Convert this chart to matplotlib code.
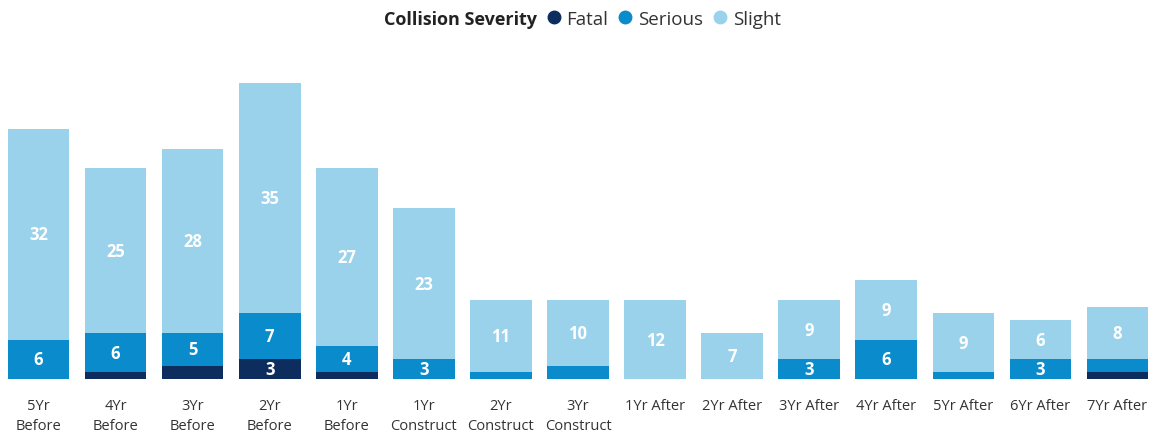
import matplotlib.pyplot as plt
import numpy as np
from matplotlib.lines import Line2D

plt.rcParams['font.family'] = ['Open Sans', 'DejaVu Sans']

# Collision counts per period
periods = ['5Yr\nBefore', '4Yr\nBefore', '3Yr\nBefore', '2Yr\nBefore', '1Yr\nBefore',
           '1Yr\nConstruct', '2Yr\nConstruct', '3Yr\nConstruct', '1Yr After', '2Yr After',
           '3Yr After', '4Yr After', '5Yr After', '6Yr After', '7Yr After']
fatal = [0, 1, 2, 3, 1, 0, 0, 0, 0, 0, 0, 0, 0, 0, 1]
serious = [6, 6, 5, 7, 4, 3, 1, 2, 0, 0, 3, 6, 1, 3, 2]
slight = [32, 25, 28, 35, 27, 23, 11, 10, 12, 7, 9, 9, 9, 6, 8]

severities = ['Fatal', 'Serious', 'Slight']
colors = ['#0d2d5e', '#0a8bcb', '#9bd2eb']

fig = plt.figure(figsize=(11.56, 4.35), dpi=100)
ax = fig.add_axes([0, 0.1264, 1, 0.761])

x = np.arange(len(periods))
bottom = np.zeros(len(periods))
for name, vals, col in zip(severities, [fatal, serious, slight], colors):
    vals = np.array(vals)
    ax.bar(x, vals, width=0.8, bottom=bottom, color=col, label=name)
    # label only segments big enough to hold text
    for xi, b, v in zip(x, bottom, vals):
        if v >= 3:
            ax.text(xi, b + v / 2, str(v), ha='center', va='center',
                    color='white', fontsize=12, fontweight='bold')
    bottom += vals

ax.set_xlim(-0.5, len(periods) - 0.5)
ax.set_ylim(0, 50.3)
ax.set_xticks(x)
ax.set_xticklabels(periods, fontsize=10.5, color='#333333', linespacing=1.4)
ax.tick_params(axis='x', length=0, pad=14)
ax.set_yticks([])
for s in ax.spines.values():
    s.set_visible(False)

# Legend: title on the left, items in a row
fig.text(384 / 1156, 1 - 20 / 435, 'Collision Severity', fontsize=13,
         fontweight='bold', color='#222222', va='center', ha='left')
handles = [Line2D([], [], marker='o', linestyle='', markersize=9, color=c) for c in colors]
fig.legend(handles, severities, loc='center left', bbox_to_anchor=(547 / 1156, 1 - 20 / 435),
           ncol=3, frameon=False, fontsize=13.5, handlelength=0.7, handletextpad=0.3,
           columnspacing=0.6, borderaxespad=0, borderpad=0, labelcolor='#333333')

fig.savefig('out.png', dpi=100)
